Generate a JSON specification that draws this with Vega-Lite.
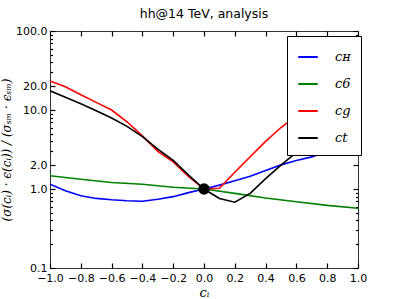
{
  "$schema": "https://vega.github.io/schema/vega-lite/v6.json",
  "width": 308,
  "height": 237,
  "autosize": "none",
  "padding": {"left": 50, "top": 31, "right": 41, "bottom": 31},
  "background": "white",
  "config": {
    "view": {"stroke": "#333", "strokeWidth": 1},
    "font": "DejaVu Sans",
    "axis": {"domain": false, "grid": false, "ticks": true, "zindex": 1, "labelFont": "DejaVu Sans", "labelFontSize": 11, "labelColor": "#000", "tickColor": "#000", "tickOpacity": 1, "tickWidth": 1.2, "tickSize": 5, "offset": -5, "labelPadding": 5, "labelOverlap": false, "labelFlush": false, "titleFont": "DejaVu Serif"}
  },
  "title": {"text": "hh@14 TeV, analysis", "font": "DejaVu Sans", "fontSize": 12.5, "fontWeight": "normal", "offset": 5, "color": "#000"},
  "datasets": {
    "curves": [
      {"c": -1.0, "v": 1.15, "s": "cH"}, {"c": -0.9, "v": 0.95, "s": "cH"}, {"c": -0.8, "v": 0.82, "s": "cH"}, {"c": -0.7, "v": 0.76, "s": "cH"}, {"c": -0.6, "v": 0.73, "s": "cH"}, {"c": -0.5, "v": 0.71, "s": "cH"}, {"c": -0.4, "v": 0.70, "s": "cH"}, {"c": -0.3, "v": 0.74, "s": "cH"}, {"c": -0.2, "v": 0.80, "s": "cH"}, {"c": -0.1, "v": 0.90, "s": "cH"}, {"c": 0.0, "v": 1.0, "s": "cH"}, {"c": 0.1, "v": 1.12, "s": "cH"}, {"c": 0.2, "v": 1.27, "s": "cH"}, {"c": 0.3, "v": 1.45, "s": "cH"}, {"c": 0.4, "v": 1.72, "s": "cH"}, {"c": 0.5, "v": 2.02, "s": "cH"}, {"c": 0.6, "v": 2.3, "s": "cH"}, {"c": 0.7, "v": 2.55, "s": "cH"}, {"c": 0.8, "v": 3.0, "s": "cH"}, {"c": 0.9, "v": 3.6, "s": "cH"}, {"c": 1.0, "v": 3.8, "s": "cH"},
      {"c": -1.0, "v": 1.47, "s": "c6"}, {"c": -0.8, "v": 1.33, "s": "c6"}, {"c": -0.6, "v": 1.21, "s": "c6"}, {"c": -0.4, "v": 1.15, "s": "c6"}, {"c": -0.2, "v": 1.05, "s": "c6"}, {"c": 0.0, "v": 1.0, "s": "c6"}, {"c": 0.2, "v": 0.88, "s": "c6"}, {"c": 0.4, "v": 0.77, "s": "c6"}, {"c": 0.6, "v": 0.69, "s": "c6"}, {"c": 0.8, "v": 0.62, "s": "c6"}, {"c": 1.0, "v": 0.57, "s": "c6"},
      {"c": -1.0, "v": 23.3, "s": "cg"}, {"c": -0.9, "v": 19.7, "s": "cg"}, {"c": -0.8, "v": 15.6, "s": "cg"}, {"c": -0.7, "v": 12.5, "s": "cg"}, {"c": -0.6, "v": 10.0, "s": "cg"}, {"c": -0.5, "v": 7.1, "s": "cg"}, {"c": -0.4, "v": 4.7, "s": "cg"}, {"c": -0.3, "v": 3.0, "s": "cg"}, {"c": -0.2, "v": 2.2, "s": "cg"}, {"c": -0.1, "v": 1.43, "s": "cg"}, {"c": 0.0, "v": 1.0, "s": "cg"}, {"c": 0.1, "v": 1.02, "s": "cg"}, {"c": 0.2, "v": 1.63, "s": "cg"}, {"c": 0.3, "v": 2.56, "s": "cg"}, {"c": 0.4, "v": 4.0, "s": "cg"}, {"c": 0.5, "v": 6.0, "s": "cg"}, {"c": 0.6, "v": 8.5, "s": "cg"}, {"c": 0.7, "v": 11.0, "s": "cg"}, {"c": 0.8, "v": 14.0, "s": "cg"}, {"c": 0.9, "v": 17.5, "s": "cg"}, {"c": 1.0, "v": 20.7, "s": "cg"},
      {"c": -1.0, "v": 17.5, "s": "ct"}, {"c": -0.9, "v": 14.5, "s": "ct"}, {"c": -0.8, "v": 12.0, "s": "ct"}, {"c": -0.7, "v": 9.8, "s": "ct"}, {"c": -0.6, "v": 7.9, "s": "ct"}, {"c": -0.5, "v": 6.2, "s": "ct"}, {"c": -0.4, "v": 4.6, "s": "ct"}, {"c": -0.3, "v": 3.2, "s": "ct"}, {"c": -0.2, "v": 2.3, "s": "ct"}, {"c": -0.1, "v": 1.5, "s": "ct"}, {"c": 0.0, "v": 1.0, "s": "ct"}, {"c": 0.1, "v": 0.76, "s": "ct"}, {"c": 0.2, "v": 0.68, "s": "ct"}, {"c": 0.3, "v": 0.88, "s": "ct"}, {"c": 0.4, "v": 1.35, "s": "ct"}, {"c": 0.5, "v": 2.0, "s": "ct"}, {"c": 0.6, "v": 2.9, "s": "ct"}, {"c": 0.7, "v": 3.9, "s": "ct"}, {"c": 0.8, "v": 5.2, "s": "ct"}, {"c": 0.9, "v": 6.6, "s": "ct"}, {"c": 1.0, "v": 8.2, "s": "ct"}
    ],
    "sm": [{"c": 0.0, "v": 1.0}]
  },
  "layer": [
    {
      "data": {"name": "curves"},
      "mark": {"type": "line", "strokeWidth": 1.6, "clip": true},
      "encoding": {
        "x": {"field": "c", "type": "quantitative", "scale": {"domain": [-1, 1], "nice": false, "zero": false},
              "axis": {"orient": "bottom", "values": [-1, -0.8, -0.6, -0.4, -0.2, 0, 0.2, 0.4, 0.6, 0.8, 1], "format": ".1f", "labelPadding": 4, "ticks": true, "tickColor": "#000", "labelExpr": "replace(datum.label, '-', '\u2212')", "title": "c\u1d62", "titleFontStyle": "italic", "titleFontWeight": "normal", "titleFontSize": 13, "titlePadding": 3}},
        "y": {"field": "v", "type": "quantitative", "scale": {"type": "log", "domain": [0.1, 100], "nice": false},
              "axis": {"orient": "left", "values": [0.1, 1, 2, 10, 20, 100], "format": ".1f", "labelPadding": 3, "ticks": true, "tickColor": "#000", "title": "(\u03c3(c\u1d62) \u00b7 \u03f5(c\u1d62)) / (\u03c3\u209b\u2098 \u00b7 \u03f5\u209b\u2098)", "titleFontStyle": "italic", "titleFontWeight": "normal", "titleFontSize": 12, "titlePadding": 2}},
        "color": {"field": "s", "type": "nominal", "scale": {"domain": ["cH", "c6", "cg", "ct"], "range": ["#0000ff", "#008000", "#ff0000", "#000000"]},
                  "legend": {"orient": "none", "legendX": 237, "legendY": 5, "zindex": 2, "title": null, "fillColor": "white", "strokeColor": "#000", "padding": 10, "rowPadding": 9, "symbolType": "stroke", "symbolStrokeWidth": 2, "symbolSize": 380, "labelFont": "DejaVu Serif", "labelFontStyle": "italic", "labelFontSize": 13, "labelOffset": 16, "labelExpr": "datum.label == 'cH' ? 'c\u029c' : datum.label"}}
      }
    },
    {
      "data": {"name": "sm"},
      "mark": {"type": "point", "filled": true, "color": "#000", "size": 130, "opacity": 1},
      "encoding": {
        "x": {"field": "c", "type": "quantitative", "axis": null},
        "y": {"field": "v", "type": "quantitative", "axis": null}
      }
    },
    {
      "data": {"name": "sm"},
      "mark": {"type": "point", "opacity": 0},
      "encoding": {
        "x": {"field": "c", "type": "quantitative", "axis": {"orient": "top", "values": [-1, -0.8, -0.6, -0.4, -0.2, 0, 0.2, 0.4, 0.6, 0.8, 1], "labels": false, "ticks": true, "title": null}},
        "y": {"field": "v", "type": "quantitative", "axis": {"orient": "right", "values": [0.1, 1, 2, 10, 20, 100], "labels": false, "ticks": true, "title": null}}
      }
    },
    {
      "data": {"name": "sm"},
      "mark": {"type": "point", "opacity": 0},
      "encoding": {
        "x": {"field": "c", "type": "quantitative", "axis": null},
        "y": {"field": "v", "type": "quantitative", "axis": {"orient": "left", "values": [0.2, 0.3, 0.4, 0.5, 0.6, 0.7, 0.8, 0.9, 3, 4, 5, 6, 7, 8, 9, 30, 40, 50, 60, 70, 80, 90], "labels": false, "ticks": true, "title": null, "tickSize": 2.5, "offset": -2.5}}
      }
    },
    {
      "data": {"name": "sm"},
      "mark": {"type": "point", "opacity": 0},
      "encoding": {
        "x": {"field": "c", "type": "quantitative", "axis": null},
        "y": {"field": "v", "type": "quantitative", "axis": {"orient": "right", "values": [0.2, 0.3, 0.4, 0.5, 0.6, 0.7, 0.8, 0.9, 3, 4, 5, 6, 7, 8, 9, 30, 40, 50, 60, 70, 80, 90], "labels": false, "ticks": true, "title": null, "tickSize": 2.5, "offset": -2.5}}
      }
    }
  ],
  "resolve": {"axis": {"x": "independent", "y": "independent"}}
}
